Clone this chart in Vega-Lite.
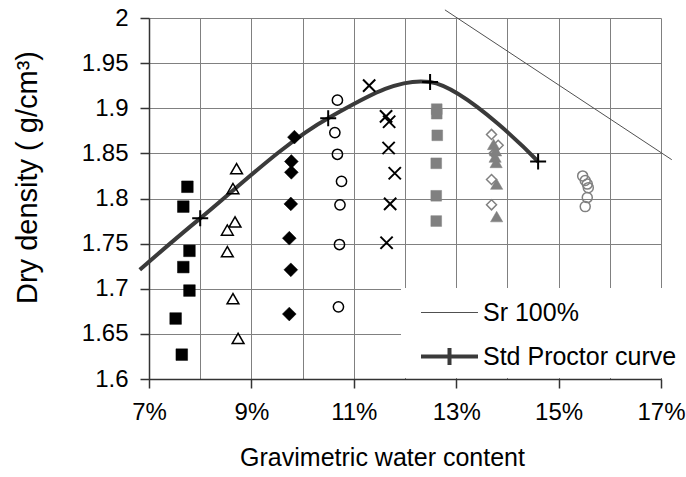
{
  "$schema": "https://vega.github.io/schema/vega-lite/v6.json",
  "width": 512,
  "height": 361,
  "autosize": {"type": "none"},
  "padding": {"left": 149, "top": 18, "right": 25, "bottom": 98},
  "background": "white",
  "config": {
    "view": {"stroke": null},
    "font": "Liberation Sans",
    "axis": {
      "labelFont": "Liberation Sans",
      "titleFont": "Liberation Sans",
      "labelColor": "black",
      "titleColor": "black",
      "titleFontWeight": "normal",
      "labelFontSize": 24,
      "titleFontSize": 25,
      "gridColor": "#808080",
      "gridWidth": 1,
      "gridOpacity": 1,
      "domainColor": "#333333",
      "domainWidth": 1.5,
      "tickColor": "#333333",
      "tickWidth": 1.5,
      "tickSize": 9,
      "labelPadding": 12,
      "labelOverlap": false,
      "labelFlush": false
    }
  },
  "datasets": {
    "pts": [
      {"w": 7.75, "rho": 1.813, "grp": "sq"},
      {"w": 7.67, "rho": 1.791, "grp": "sq"},
      {"w": 7.79, "rho": 1.742, "grp": "sq"},
      {"w": 7.67, "rho": 1.724, "grp": "sq"},
      {"w": 7.79, "rho": 1.698, "grp": "sq"},
      {"w": 7.52, "rho": 1.667, "grp": "sq"},
      {"w": 7.64, "rho": 1.627, "grp": "sq"},
      {"w": 8.71, "rho": 1.833, "grp": "tri"},
      {"w": 8.64, "rho": 1.811, "grp": "tri"},
      {"w": 8.68, "rho": 1.774, "grp": "tri"},
      {"w": 8.53, "rho": 1.765, "grp": "tri"},
      {"w": 8.53, "rho": 1.741, "grp": "tri"},
      {"w": 8.64, "rho": 1.689, "grp": "tri"},
      {"w": 8.74, "rho": 1.645, "grp": "tri"},
      {"w": 9.84, "rho": 1.868, "grp": "dia"},
      {"w": 9.78, "rho": 1.841, "grp": "dia"},
      {"w": 9.78, "rho": 1.829, "grp": "dia"},
      {"w": 9.77, "rho": 1.794, "grp": "dia"},
      {"w": 9.74, "rho": 1.756, "grp": "dia"},
      {"w": 9.77, "rho": 1.721, "grp": "dia"},
      {"w": 9.74, "rho": 1.672, "grp": "dia"},
      {"w": 10.68, "rho": 1.909, "grp": "circ"},
      {"w": 10.63, "rho": 1.873, "grp": "circ"},
      {"w": 10.68, "rho": 1.849, "grp": "circ"},
      {"w": 10.76, "rho": 1.819, "grp": "circ"},
      {"w": 10.73, "rho": 1.793, "grp": "circ"},
      {"w": 10.72, "rho": 1.749, "grp": "circ"},
      {"w": 10.70, "rho": 1.680, "grp": "circ"},
      {"w": 11.30, "rho": 1.925, "grp": "x"},
      {"w": 11.63, "rho": 1.891, "grp": "x"},
      {"w": 11.69, "rho": 1.885, "grp": "x"},
      {"w": 11.68, "rho": 1.856, "grp": "x"},
      {"w": 11.80, "rho": 1.828, "grp": "x"},
      {"w": 11.71, "rho": 1.794, "grp": "x"},
      {"w": 11.64, "rho": 1.751, "grp": "x"},
      {"w": 12.62, "rho": 1.899, "grp": "gsq"},
      {"w": 12.62, "rho": 1.894, "grp": "gsq"},
      {"w": 12.63, "rho": 1.870, "grp": "gsq"},
      {"w": 12.61, "rho": 1.839, "grp": "gsq"},
      {"w": 12.61, "rho": 1.803, "grp": "gsq"},
      {"w": 12.61, "rho": 1.775, "grp": "gsq"},
      {"w": 13.69, "rho": 1.871, "grp": "gdia"},
      {"w": 13.82, "rho": 1.859, "grp": "gdia"},
      {"w": 13.74, "rho": 1.850, "grp": "gdia"},
      {"w": 13.69, "rho": 1.821, "grp": "gdia"},
      {"w": 13.69, "rho": 1.793, "grp": "gdia"},
      {"w": 13.73, "rho": 1.860, "grp": "gtri"},
      {"w": 13.77, "rho": 1.853, "grp": "gtri"},
      {"w": 13.76, "rho": 1.846, "grp": "gtri"},
      {"w": 13.78, "rho": 1.840, "grp": "gtri"},
      {"w": 13.79, "rho": 1.816, "grp": "gtri"},
      {"w": 13.79, "rho": 1.780, "grp": "gtri"},
      {"w": 15.47, "rho": 1.825, "grp": "gcirc"},
      {"w": 15.52, "rho": 1.820, "grp": "gcirc"},
      {"w": 15.56, "rho": 1.816, "grp": "gcirc"},
      {"w": 15.58, "rho": 1.812, "grp": "gcirc"},
      {"w": 15.56, "rho": 1.801, "grp": "gcirc"},
      {"w": 15.52, "rho": 1.791, "grp": "gcirc"},
      {"w": 8.0, "rho": 1.778, "grp": "pr"},
      {"w": 10.5, "rho": 1.889, "grp": "pr"},
      {"w": 12.49, "rho": 1.929, "grp": "pr"},
      {"w": 14.6, "rho": 1.841, "grp": "pr"}
    ],
    "lines": [
      {"w": 12.78, "rho": 2.009, "series": "Sr 100%"},
      {"w": 17.21, "rho": 1.843, "series": "Sr 100%"},
      {"w": 6.82, "rho": 1.721, "series": "Std Proctor curve"},
      {"w": 8.0, "rho": 1.778, "series": "Std Proctor curve"},
      {"w": 10.5, "rho": 1.889, "series": "Std Proctor curve"},
      {"w": 12.49, "rho": 1.929, "series": "Std Proctor curve"},
      {"w": 14.6, "rho": 1.841, "series": "Std Proctor curve"}
    ]
  },
  "encoding": {
    "x": {
      "field": "w",
      "type": "quantitative",
      "scale": {"domain": [7, 17], "nice": false, "zero": false},
      "axis": {
        "title": "Gravimetric water content",
        "values": [7, 8, 9, 10, 11, 12, 13, 14, 15, 16, 17],
        "labelExpr": "datum.value % 2 == 1 ? datum.value + '%' : ''",
        "grid": true,
        "tickOpacity": {"condition": {"test": "datum.value % 2 == 1", "value": 1}, "value": 0},
        "titleX": 233,
        "titleY": 78,
        "titleAlign": "center",
        "titleBaseline": "middle",
        "titleAnchor": null
      }
    },
    "y": {
      "field": "rho",
      "type": "quantitative",
      "scale": {"domain": [1.6, 2], "nice": false, "zero": false},
      "axis": {
        "title": "Dry density ( g/cm³)",
        "values": [1.6, 1.65, 1.7, 1.75, 1.8, 1.85, 1.9, 1.95, 2],
        "format": ".2~f",
        "grid": true,
        "titleFontSize": 29,
        "titleX": -122,
        "titleY": 159,
        "titleAngle": -90,
        "titleAlign": "center",
        "titleBaseline": "middle",
        "titleAnchor": null
      }
    }
  },
  "layer": [
    {
      "data": {"name": "lines"},
      "transform": [{"filter": "datum.series == 'Sr 100%'"}],
      "mark": {"type": "line", "strokeWidth": 1, "clip": false},
      "encoding": {
        "color": {
          "field": "series",
          "type": "nominal",
          "scale": {"domain": ["Sr 100%", "Std Proctor curve"], "range": ["#505050", "#3a3a3a"]},
          "legend": {
            "orient": "none",
            "legendX": 252,
            "legendY": 270,
            "title": " ",
            "titleFontSize": 8,
            "titlePadding": 0,
            "padding": 4,
            "fillColor": "white",
            "strokeColor": null,
            "labelFont": "Liberation Sans",
            "labelFontSize": 25,
            "labelColor": "black",
            "labelLimit": 400,
            "symbolType": "M-2,0H2",
            "symbolSize": 812,
            "symbolStrokeWidth": 4,
            "symbolOffset": 32,
            "labelOffset": 21,
            "rowPadding": 13,
            "encode": {
              "symbols": {
                "update": {
                  "shape": {"signal": "datum.value === 'Std Proctor curve' ? 'M-2,0H2M0,-0.6V0.6' : 'M-2,0H2'"},
                  "strokeWidth": {"signal": "datum.value === 'Std Proctor curve' ? 4 : 1"},
                  "fill": {"value": "transparent"}
                }
              }
            }
          }
        }
      }
    },
    {
      "data": {"name": "lines"},
      "transform": [{"filter": "datum.series == 'Std Proctor curve'"}],
      "mark": {"type": "line", "strokeWidth": 4, "interpolate": "catmull-rom", "clip": false},
      "encoding": {
        "color": {"field": "series", "type": "nominal"}
      }
    },
    {
      "data": {"name": "pts"},
      "transform": [{"filter": "datum.grp == 'sq'"}],
      "mark": {"type": "point", "shape": "square", "filled": true, "fill": "#000000", "stroke": "#000000", "strokeWidth": 0.5, "size": 135, "opacity": 1}
    },
    {
      "data": {"name": "pts"},
      "transform": [{"filter": "datum.grp == 'tri'"}],
      "mark": {"type": "point", "shape": "triangle-up", "filled": false, "stroke": "#000000", "strokeWidth": 1.5, "size": 140, "opacity": 1}
    },
    {
      "data": {"name": "pts"},
      "transform": [{"filter": "datum.grp == 'dia'"}],
      "mark": {"type": "point", "shape": "diamond", "filled": true, "fill": "#000000", "stroke": "#000000", "strokeWidth": 0.5, "size": 190, "opacity": 1}
    },
    {
      "data": {"name": "pts"},
      "transform": [{"filter": "datum.grp == 'circ'"}],
      "mark": {"type": "point", "shape": "circle", "filled": false, "stroke": "#000000", "strokeWidth": 1.5, "size": 105, "opacity": 1}
    },
    {
      "data": {"name": "pts"},
      "transform": [{"filter": "datum.grp == 'x'"}],
      "mark": {"type": "point", "shape": "M-1,-1L1,1M1,-1L-1,1", "filled": false, "stroke": "#000000", "strokeWidth": 2, "size": 150, "opacity": 1}
    },
    {
      "data": {"name": "pts"},
      "transform": [{"filter": "datum.grp == 'gsq'"}],
      "mark": {"type": "point", "shape": "square", "filled": true, "fill": "#808080", "stroke": "#808080", "strokeWidth": 0.5, "size": 115, "opacity": 1}
    },
    {
      "data": {"name": "pts"},
      "transform": [{"filter": "datum.grp == 'gdia'"}],
      "mark": {"type": "point", "shape": "diamond", "filled": false, "stroke": "#808080", "strokeWidth": 1.5, "size": 100, "opacity": 1}
    },
    {
      "data": {"name": "pts"},
      "transform": [{"filter": "datum.grp == 'gtri'"}],
      "mark": {"type": "point", "shape": "triangle-up", "filled": true, "fill": "#808080", "stroke": "#808080", "strokeWidth": 0.5, "size": 150, "opacity": 1}
    },
    {
      "data": {"name": "pts"},
      "transform": [{"filter": "datum.grp == 'gcirc'"}],
      "mark": {"type": "point", "shape": "circle", "filled": false, "stroke": "#808080", "strokeWidth": 1.5, "size": 100, "opacity": 1}
    },
    {
      "data": {"name": "pts"},
      "transform": [{"filter": "datum.grp == 'pr'"}],
      "mark": {"type": "point", "shape": "M-1,0H1M0,-1V1", "filled": false, "stroke": "#000000", "strokeWidth": 2, "size": 256, "opacity": 1}
    }
  ]
}
